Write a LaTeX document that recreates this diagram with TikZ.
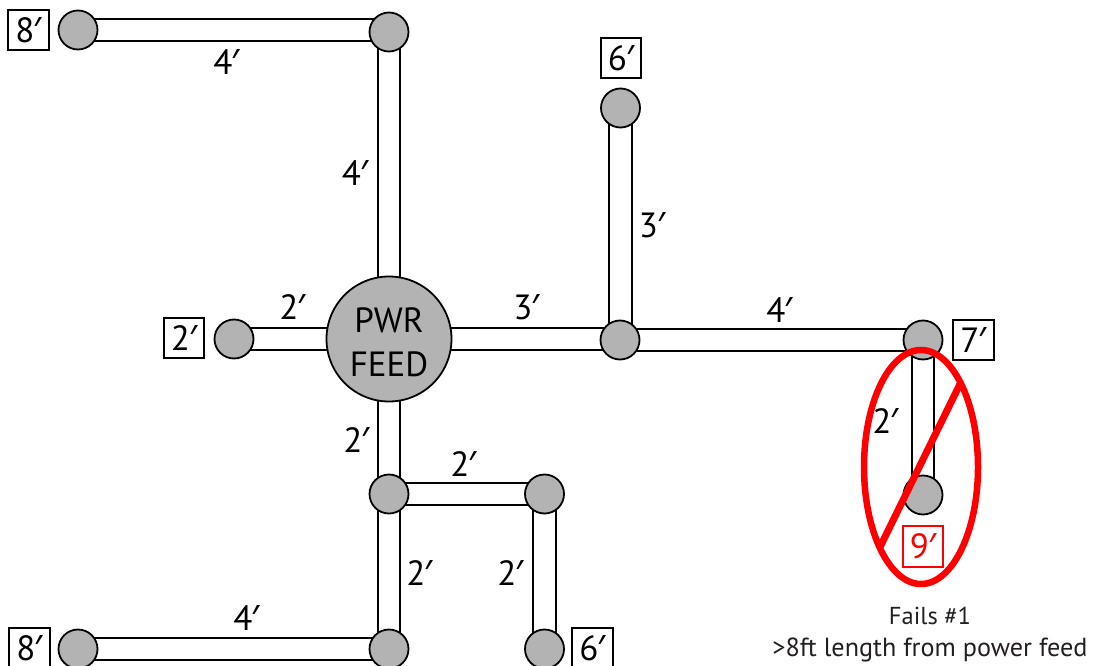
\documentclass[tikz,border=0pt]{standalone}
\usepackage{fontspec}
\setmainfont{PT Sans}
\newfontfamily\primefont{Noto Sans}
\newcommand{\ftmark}{\kern-0.02em{\primefont ′}}
\usetikzlibrary{backgrounds,shapes.geometric}
\definecolor{nodegrey}{HTML}{B3B3B3}
\definecolor{fr}{HTML}{FF0000}
\definecolor{capt}{HTML}{231F20}
\tikzset{
  x=1pt,y=-1pt,
  junction/.style={circle,draw=black,line width=1.8pt,fill=nodegrey,minimum size=39pt,inner sep=0pt,outer sep=0pt},
  feed/.style={circle,draw=black,line width=1.8pt,fill=nodegrey,minimum size=125pt,inner sep=0pt,outer sep=0pt,align=center,font=\fontsize{35}{44}\selectfont},
  barout/.style={line width=24.5pt,draw=black},
  barin/.style={line width=20.9pt,draw=white},
  tag/.style={draw=black,line width=1.8pt,minimum size=40.5pt,inner sep=0pt,outer sep=0pt,fill=white,font=\fontsize{35}{36}\selectfont},
  redtag/.style={tag,draw=fr,text=fr},
  len/.style={inner sep=0pt,font=\fontsize{35}{36}\selectfont},
  capline/.style={inner sep=0pt,text=capt},
  redring/.style={ellipse,draw=fr,line width=6.5pt,minimum width=114pt,minimum height=234pt,inner sep=0pt,outer sep=0pt},
  redslash/.style={draw=fr,line width=7pt},
}
\begin{document}
\begin{tikzpicture}
\useasboundingbox (0,0) rectangle (1097,666);
\clip (0,0) rectangle (1097,666);
\node[junction] (n1) at (78,30) {};
\node[junction] (n2) at (389,32) {};
\node[feed] (pwr) at (389,339) {\raisebox{-3pt}[\height][\depth]{PWR}\\\raisebox{-3pt}[\height][\depth]{FEED}};
\node[junction] (n3) at (234,339) {};
\node[junction] (n4) at (620.5,108) {};
\node[junction] (n5) at (620,340) {};
\node[junction] (n6) at (923,340) {};
\node[junction] (n7) at (923,495) {};
\node[junction] (n8) at (389,494) {};
\node[junction] (n9) at (544.5,494) {};
\node[junction] (n10) at (389,649) {};
\node[junction] (n11) at (78,649) {};
\node[junction] (n12) at (544.5,649) {};
\begin{scope}[on background layer]
  \foreach \a/\b in {n1/n2,n3/pwr,pwr/n5,n5/n6,n8/n9,n11/n10}{
    \draw[barout] (\a.center) -- (\a.center -| \b.center);
    \draw[barin] (\a.center) -- (\a.center -| \b.center);
  }
  \foreach \a/\b in {n2/pwr,n4/n5,n6/n7,pwr/n8,n9/n12,n8/n10}{
    \draw[barout] (\a.center) -- (\a.center |- \b.center);
    \draw[barin] (\a.center) -- (\a.center |- \b.center);
  }
\end{scope}
\node[tag] (t1) at (28.5,30) {8\ftmark};
\node[tag] (t2) at (184,338) {2\ftmark};
\node[tag] (t3) at (621,58) {6\ftmark};
\node[tag] (t4) at (973.5,340) {7\ftmark};
\node[tag] (t5) at (29.5,648.5) {8\ftmark};
\node[tag] (t6) at (592.5,648.5) {6\ftmark};
\node[redtag] (t7) at (923,546.5) {9\ftmark};
\node[len] (l1) at (226.5,62) {4\ftmark};
\node[len] (l2) at (355,173) {4\ftmark};
\node[len] (l3) at (652,225) {3\ftmark};
\node[len] (l4) at (526.5,307) {3\ftmark};
\node[len] (l5) at (779.5,310) {4\ftmark};
\node[len] (l6) at (292.5,307) {2\ftmark};
\node[len] (l7) at (356.5,440) {2\ftmark};
\node[len] (l8) at (463.5,464) {2\ftmark};
\node[len] (l9) at (419.5,573) {2\ftmark};
\node[len] (l10) at (510.5,573) {2\ftmark};
\node[len] (l11) at (246.5,618) {4\ftmark};
\node[len] (l12) at (885.5,421) {2\ftmark};
\node[redring] (ring) at (921,467) {};
\coordinate (s1) at (880,547);
\coordinate (s2) at (960,384);
\draw[redslash] (s1) -- (s2);
\node[capline,font=\fontsize{24.5}{28}\selectfont] (c1) at (930,616) {Fails \#1};
\node[capline,font=\fontsize{26.2}{28}\selectfont] (c2) at (930,650) {>8ft length from power feed};
\end{tikzpicture}
\end{document}
